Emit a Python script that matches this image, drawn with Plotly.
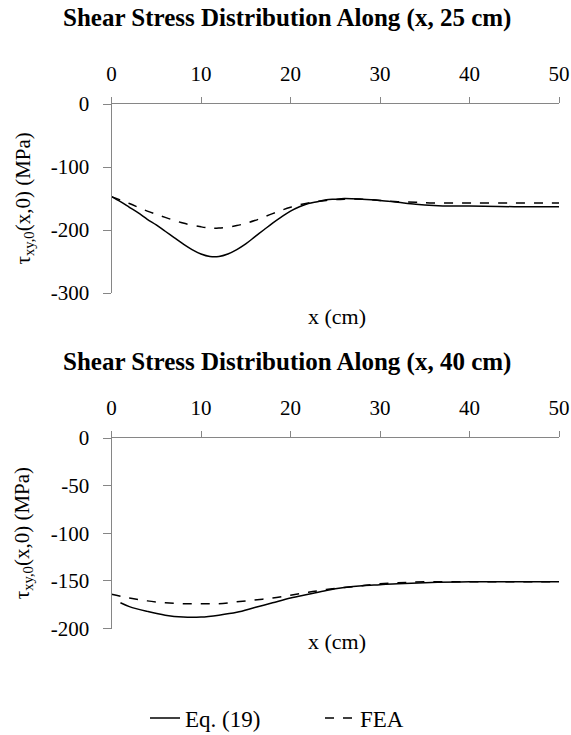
import plotly.graph_objects as go

# ---- data: (x, 25 cm) ----
x_top_eq = [0, 1, 2, 3, 4, 5, 6, 7, 8, 9, 10, 11, 12, 13, 14, 15, 16, 17, 18, 19, 20,
            21, 22, 23, 24, 25, 26, 28, 30, 32, 34, 36, 38, 40, 45, 50]
y_top_eq = [-147, -155, -164, -173, -183, -192, -202, -212, -222, -231, -238, -242, -242,
            -238, -231, -222, -211, -200, -189, -179, -170, -163, -158, -155, -152, -151,
            -150, -151, -153, -156, -159, -161, -162, -162, -163, -163]
x_top_fea = [0, 2, 4, 6, 8, 10, 11, 12, 14, 16, 18, 20, 22, 24, 26, 28, 30, 32, 34, 36, 40, 45, 50]
y_top_fea = [-147, -158, -170, -180, -189, -195, -197, -197, -193, -185, -174, -164, -157,
             -153, -151, -151, -153, -155, -156, -157, -157, -157, -157]

# ---- data: (x, 40 cm) ----
x_bot_eq = [1, 2, 4, 6, 8, 10, 12, 14, 16, 18, 20, 22, 24, 26, 28, 30, 32, 35, 40, 45, 50]
y_bot_eq = [-173, -177, -182, -186, -188, -188, -186, -183, -178, -173, -168, -164, -160,
            -157, -155, -154, -153, -152, -151, -151, -151]
x_bot_fea = [0, 2, 4, 6, 8, 10, 12, 14, 16, 18, 20, 22, 24, 26, 28, 30, 32, 35, 40, 45, 50]
y_bot_fea = [-164, -168, -171, -173, -174, -174, -174, -172, -170, -168, -165, -162, -159,
             -157, -155, -153, -152, -151, -151, -151, -151]

titles = ["Shear Stress Distribution Along (x, 25 cm)", "Shear Stress Distribution Along (x, 40 cm)"]
x_ticks = [0, 10, 20, 30, 40, 50]
y_ticks_top = [0, -100, -200, -300]
y_ticks_bot = [0, -50, -100, -150, -200]
series_names = ["Eq. (19)", "FEA"]

W, H = 571, 735
FONT = "Liberation Serif"
AX = "#868686"

fig = go.Figure()
fig.add_trace(go.Scatter(x=x_top_eq, y=y_top_eq, mode="lines", name=series_names[0],
                         line=dict(color="black", width=1.5, shape="spline"), xaxis="x", yaxis="y"))
fig.add_trace(go.Scatter(x=x_top_fea, y=y_top_fea, mode="lines", name=series_names[1],
                         line=dict(color="black", width=1.5, dash="dash", shape="spline"), xaxis="x", yaxis="y"))
fig.add_trace(go.Scatter(x=x_bot_eq, y=y_bot_eq, mode="lines", name=series_names[0], showlegend=False,
                         line=dict(color="black", width=1.5, shape="spline"), xaxis="x2", yaxis="y2"))
fig.add_trace(go.Scatter(x=x_bot_fea, y=y_bot_fea, mode="lines", name=series_names[1], showlegend=False,
                         line=dict(color="black", width=1.5, dash="dash", shape="spline"), xaxis="x2", yaxis="y2"))

xdom = [111.5 / W, 559 / W]
top_dom = [(H - 293) / H, (H - 104) / H]
bot_dom = [(H - 628.5) / H, (H - 438) / H]

def xax(anchor):
    return dict(domain=xdom, anchor=anchor, side="top", range=[0, 50], tickvals=x_ticks,
                ticktext=[str(v) for v in x_ticks], automargin=False,
                showline=True, linecolor=AX, linewidth=1, ticks="outside", ticklen=6,
                tickcolor=AX, showgrid=False, zeroline=False, ticklabelstandoff=8,
                tickfont=dict(family=FONT, size=21, color="black"))

def yax(anchor, dom, rng, tv):
    return dict(domain=dom, anchor=anchor, range=rng, tickvals=tv,
                ticktext=[("-" + str(-v)) if v < 0 else str(v) for v in tv], automargin=False,
                showline=True, linecolor=AX, linewidth=1, ticks="outside", ticklen=8,
                tickcolor=AX, showgrid=False, zeroline=False, ticklabelstandoff=9,
                tickfont=dict(family=FONT, size=21, color="black"))

ylab = "τ<sub>xy,0</sub>(x,0) (MPa)"
ann = []
for yt, txt in [(18, titles[0]), (362, titles[1])]:
    ann.append(dict(text="<b>" + txt + "</b>", x=287 / W, y=(H - yt) / H,
                    xref="paper", yref="paper", showarrow=False, xanchor="center", yanchor="middle",
                    font=dict(family=FONT, size=25, color="black")))
for yt in [316, 641]:
    ann.append(dict(text="x (cm)", x=337 / W, y=(H - yt) / H,
                    xref="paper", yref="paper", showarrow=False, xanchor="center", yanchor="middle",
                    font=dict(family=FONT, size=22, color="black")))
for dom in [top_dom, bot_dom]:
    ann.append(dict(text=ylab, x=23 / W, y=0.5 * (dom[0] + dom[1]), textangle=-90,
                    xref="paper", yref="paper", showarrow=False, xanchor="center", yanchor="middle",
                    font=dict(family=FONT, size=21, color="black")))

fig.update_layout(
    width=W, height=H, margin=dict(l=0, r=0, t=0, b=0, autoexpand=False),
    paper_bgcolor="white", plot_bgcolor="white",
    xaxis=xax("y"), yaxis=yax("x", top_dom, [-300, 0], y_ticks_top),
    xaxis2=xax("y2"), yaxis2=yax("x2", bot_dom, [-200, 0], y_ticks_bot),
    annotations=ann,
    showlegend=True,
    legend=dict(orientation="h", x=320 / W, y=(H - 718) / H, xanchor="center", yanchor="middle",
                font=dict(family=FONT, size=23, color="black"), bgcolor="rgba(0,0,0,0)",
                entrywidth=130, tracegroupgap=0),
)

fig.write_html("out.html")
